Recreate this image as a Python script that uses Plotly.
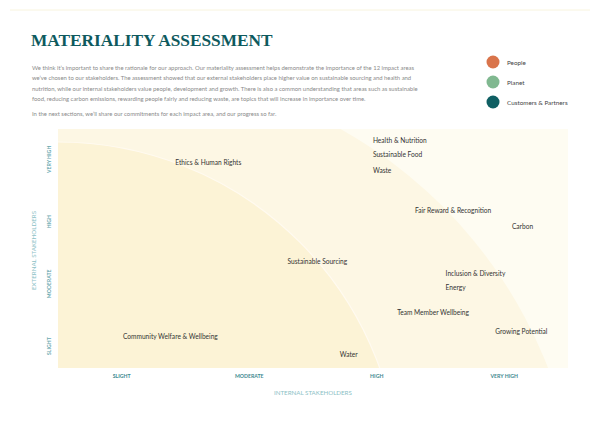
import plotly.graph_objects as go

# ---------------- data ----------------
levels = ["SLIGHT", "MODERATE", "HIGH", "VERY HIGH"]
level_vals = [1, 2, 3, 4]

areas = [
    "Health & Nutrition", "Sustainable Food", "Waste", "Ethics & Human Rights",
    "Fair Reward & Recognition", "Carbon", "Sustainable Sourcing",
    "Inclusion & Diversity", "Energy", "Team Member Wellbeing",
    "Growing Potential", "Community Welfare & Wellbeing", "Water",
]
internal = [2.97, 2.97, 2.97, 1.42, 3.30, 4.06, 2.30, 3.54, 3.54, 3.16, 3.93, 1.01, 2.71]
external = [4.30, 4.08, 3.82, 3.95, 3.18, 2.92, 2.35, 2.17, 1.94, 1.53, 1.24, 1.16, 0.87]

legend_names = ["People", "Planet", "Customers & Partners"]
legend_colors = ["#d9744b", "#80b890", "#0f5f63"]

paragraph = [
    "We think it\u2019s important to share the rationale for our approach. Our materiality assessment helps demonstrate the importance of the 12 impact areas",
    "we\u2019ve chosen to our stakeholders. The assessment showed that our external stakeholders place higher value on sustainable sourcing and health and",
    "nutrition, while our internal stakeholders value people, development and growth. There is also a common understanding that areas such as sustainable",
    "food, reducing carbon emissions, rewarding people fairly and reducing waste, are topics that will increase in importance over time.",
    "In the next sections, we\u2019ll share our commitments for each impact area, and our progress so far.",
]

# ---------------- layout geometry (pixels) ----------------
W, H = 600, 424
L, R, T, B = 58, 32, 129, 56
PW, PH = W - L - R, H - T - B
XR = [0.5, 4.5]
YR = [0.66, 4.5]
SX = PW / (XR[1] - XR[0])
SY = PH / (YR[1] - YR[0])


def px_x(p):  # pixel -> x data
    return XR[0] + (p - L) / SX


def px_y(p):  # pixel -> y data
    return YR[0] + (H - B - p) / SY


def pp_x(p):  # pixel -> paper x
    return (p - L) / PW


def pp_y(p):  # pixel -> paper y
    return (H - B - p) / PH


fig = go.Figure()
fig.add_trace(go.Scatter(
    x=internal, y=external, mode="text", text=areas,
    textposition="middle right",
    textfont=dict(family="Lato", size=6.6, color="#333333"),
    hoverinfo="text", showlegend=False,
))

shapes = []


def circle_data(cx, cy, r, fill, line_color=None, lw=0):
    return dict(type="circle", xref="x", yref="y", layer="below",
                x0=px_x(cx - r), x1=px_x(cx + r),
                y0=px_y(cy + r), y1=px_y(cy - r),
                fillcolor=fill,
                line=dict(color=line_color or fill, width=lw))


# middle band and inner zone
shapes.append(circle_data(111, 538, 469, "#fdf7e4"))
shapes.append(circle_data(58, 484, 342, "#fcf3d6", "#fffaf0", 1.2))

# top decorative line
shapes.append(dict(type="line", xref="paper", yref="paper",
                   x0=pp_x(10), x1=pp_x(590), y0=pp_y(10), y1=pp_y(10),
                   line=dict(color="#f8f4de", width=1)))

# legend circles
for i, c in enumerate(legend_colors):
    cy = 62 + 20 * i
    shapes.append(dict(type="circle", xref="paper", yref="paper",
                       x0=pp_x(493 - 6.5), x1=pp_x(493 + 6.5),
                       y0=pp_y(cy + 6.5), y1=pp_y(cy - 6.5),
                       fillcolor=c, line=dict(width=0)))

annotations = []
annotations.append(dict(
    text="<b>MATERIALITY ASSESSMENT</b>", xref="paper", yref="paper",
    x=pp_x(29), y=pp_y(40), xanchor="left", yanchor="middle", showarrow=False,
    font=dict(family="Liberation Serif", size=17.3, color="#0e5a5e")))

para_y = [67, 77.5, 88, 98.5, 113]
for line, yy in zip(paragraph, para_y):
    annotations.append(dict(
        text=line, xref="paper", yref="paper", x=pp_x(30), y=pp_y(yy),
        xanchor="left", yanchor="middle", showarrow=False,
        font=dict(family="Lato", size=5.9, color="#8a8a8a")))

for i, n in enumerate(legend_names):
    annotations.append(dict(
        text=n, xref="paper", yref="paper", x=pp_x(505), y=pp_y(62 + 20 * i),
        xanchor="left", yanchor="middle", showarrow=False,
        font=dict(family="Lato", size=6.3, color="#444444")))

annotations.append(dict(
    text="INTERNAL STAKEHOLDERS", xref="paper", yref="paper",
    x=pp_x(313), y=pp_y(392), xanchor="center", yanchor="middle",
    showarrow=False, font=dict(family="Lato", size=6.2, color="#8cc1c6")))
annotations.append(dict(
    text="EXTERNAL STAKEHOLDERS", xref="paper", yref="paper",
    x=pp_x(33), y=pp_y(250), xanchor="center", yanchor="middle",
    textangle=-90, showarrow=False,
    font=dict(family="Lato", size=6.2, color="#8cc1c6")))

tickfont = dict(family="Lato", size=5.2, color="#3d8990", weight=700)

fig.update_layout(
    width=W, height=H,
    margin=dict(l=L, r=R, t=T, b=B, pad=0),
    paper_bgcolor="#ffffff",
    plot_bgcolor="#fefcf2",
    shapes=shapes,
    annotations=annotations,
    showlegend=False,
    xaxis=dict(range=XR, tickvals=level_vals, ticktext=levels,
               showgrid=False, zeroline=False, showline=False, ticks="",
               tickfont=tickfont, fixedrange=True, ticklabelstandoff=4),
    yaxis=dict(range=YR, tickvals=level_vals, ticktext=levels,
               showgrid=False, zeroline=False, showline=False, ticks="",
               tickangle=-90, tickfont=dict(tickfont, color="#6aa9af"),
               fixedrange=True, ticklabelstandoff=5),
)

fig.write_html("out.html")
